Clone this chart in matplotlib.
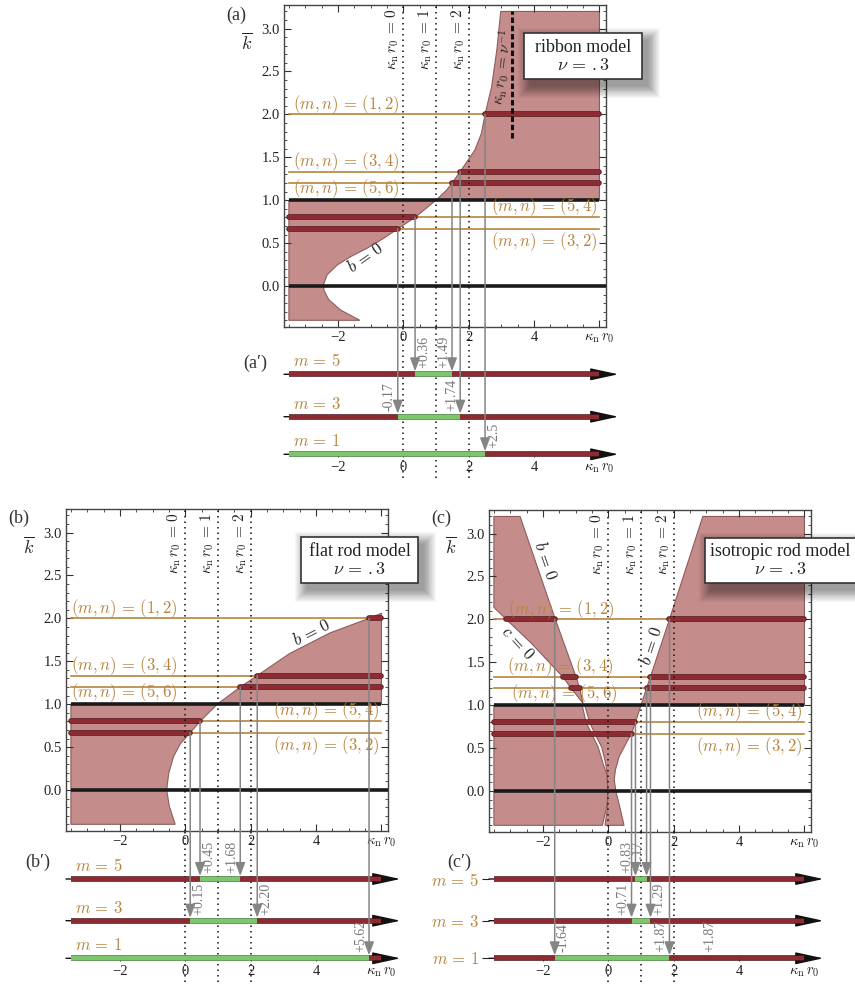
import numpy as np
import matplotlib
matplotlib.use("Agg")
import matplotlib.pyplot as plt
from matplotlib.patches import Polygon, Rectangle, ConnectionPatch
from matplotlib.transforms import offset_copy
import matplotlib.patheffects as pe

plt.rcParams['mathtext.fontset'] = 'cm'
plt.rcParams['font.family'] = ['Liberation Serif', 'DejaVu Serif']

# ---------------- data ----------------
XMIN, XMAX, KMIN, KMAX = -3.5, 6.0, -0.4, 3.2
NU_INV = 1 / 0.3
k_levels = [2.0, 4 / 3, 6 / 5, 4 / 5, 2 / 3]
mn_texts = ['(1,2)', '(3,4)', '(5,6)', '(5,4)', '(3,2)']
m_values = [5, 3, 1]
x_ticks = [-2, 0, 2, 4]
y_ticks = [0.0, 0.5, 1.0, 1.5, 2.0, 2.5, 3.0]
kr_marks = [0, 1, 2]

# ribbon model: b = 0 curve
rib_k = [-0.40, -0.28, -0.16, -0.05, 0.03, 0.13, 0.245, 0.34, 0.44, 0.556, 0.667, 0.80, 1.0,
         1.12, 1.2, 1.333, 1.585, 1.78, 2.0, 2.32, 2.75, 3.2]
rib_x = [-1.33, -1.92, -2.28, -2.43, -2.43, -2.33, -2.02, -1.62, -1.11, -0.60, -0.17, 0.36, 1.0,
         1.33, 1.49, 1.74, 2.19, 2.39, 2.50, 2.70, 2.86, 2.98]
rib_bars = {2.0: [(2.50, XMAX)], 4 / 3: [(1.74, XMAX)], 6 / 5: [(1.49, XMAX)],
            4 / 5: [(XMIN, 0.36)], 2 / 3: [(XMIN, -0.17)]}
rib_green = {5: (0.36, 1.49), 3: (-0.17, 1.74), 1: (XMIN, 2.50)}
rib_arrows = [(-0.17, 2 / 3, 3, '-0.17', 'l'), (0.36, 0.8, 5, '+0.36', 'r'),
              (1.49, 1.2, 5, '+1.49', 'l'), (1.74, 4 / 3, 3, '+1.74', 'l'),
              (2.50, 2.0, 1, '+2.5', 'r')]

# flat rod model: b = 0 curve
flat_k = [-0.40, -0.19, 0.0, 0.19, 0.39, 0.54, 0.667, 0.80, 1.0, 1.2, 1.333, 1.59, 1.83, 2.0, 2.06]
flat_x = [-0.31, -0.49, -0.57, -0.51, -0.36, -0.15, 0.15, 0.45, 0.98, 1.68, 2.20, 3.19, 4.42, 5.62, 6.0]
flat_bars = {2.0: [(5.62, XMAX)], 4 / 3: [(2.20, XMAX)], 6 / 5: [(1.68, XMAX)],
             4 / 5: [(XMIN, 0.45)], 2 / 3: [(XMIN, 0.15)]}
flat_green = {5: (0.45, 1.68), 3: (0.15, 2.20), 1: (XMIN, 5.62)}
flat_arrows = [(0.15, 2 / 3, 3, '+0.15', 'r'), (0.45, 0.8, 5, '+0.45', 'r'),
               (1.68, 1.2, 5, '+1.68', 'l'), (2.20, 4 / 3, 3, '+2.20', 'r'),
               (5.62, 2.0, 1, '+5.62', 'l')]

# isotropic rod model boundaries
iso_bL_k = [3.2, 2.0, 1.333, 1.2, 1.02]
iso_bL_x = [-2.70, -1.62, -0.99, -0.88, -0.77]
iso_c0_k = [2.14, 2.0, 1.72, 1.333, 1.2, 1.02]
iso_c0_x = [-3.5, -3.12, -2.35, -1.40, -1.14, -0.77]
iso_lensL_k = [-0.40, -0.20, -0.10, 0.05, 0.18, 0.32, 0.51, 0.667, 0.80, 1.0]
iso_lensL_x = [-0.18, -0.06, -0.02, -0.02, -0.04, -0.16, -0.31, -0.51, -0.68, -0.80]
iso_lensR_k = [-0.40, -0.20, -0.10, 0.05, 0.18, 0.32, 0.51, 0.667, 0.80, 1.0]
iso_lensR_x = [-0.10, -0.03, -0.02, -0.02, -0.03, -0.08, -0.20, -0.41, -0.57, -0.72]
iso_bR_k = [-0.40, -0.20, 0.0, 0.13, 0.25, 0.40, 0.61, 0.667, 0.80, 1.0, 1.2, 1.333, 2.0, 3.2]
iso_bR_x = [0.48, 0.36, 0.23, 0.18, 0.22, 0.33, 0.62, 0.71, 0.83, 1.0, 1.17, 1.29, 1.87, 2.89]
iso_bars = {2.0: [(-3.12, -1.64), (1.87, XMAX)], 4 / 3: [(-1.40, -0.99), (1.29, XMAX)],
            6 / 5: [(-1.14, -0.88), (1.17, XMAX)], 4 / 5: [(XMIN, 0.83)], 2 / 3: [(XMIN, 0.71)]}
iso_green = {5: (0.83, 1.17), 3: (0.71, 1.29), 1: (-1.64, 1.87)}
iso_arrows = [(-1.64, 2.0, 1, '-1.64', 'r'), (0.71, 2 / 3, 3, '+0.71', 'l'),
              (0.83, 0.8, 5, '+0.83', 'l'), (1.17, 1.2, 5, '+1.17', 'l'),
              (1.29, 4 / 3, 3, '+1.29', 'r'), (1.87, 2.0, 1, '+1.87', 'l')]
iso_extra_label = (2.84, 1, '+1.87')

# ---------------- style ----------------
W, H = 855, 986
FILL = '#C58C8C'
FILL_EDGE = '#8E5C5C'
RED = '#8E2B32'
RED_EDGE = '#4E1519'
GREEN = '#7DC66C'
GREEN_EDGE = '#3F7D37'
BROWN = '#B7843E'
GRAY = '#858585'
XLIM = (-3.65, 6.2)
YLIM = (-0.478, 3.275)

fig = plt.figure(figsize=(W / 100, H / 100), dpi=100)


def add_ax(l, t, r, b):
    return fig.add_axes([l / W, 1 - b / H, (r - l) / W, (b - t) / H])


def ftext(x, y, s, **kw):
    return fig.text(x / W, 1 - y / H, s, **kw)


def style_main(ax):
    ax.set_xlim(*XLIM)
    ax.set_ylim(*YLIM)
    ax.set_xticks(x_ticks + [6])
    ax.set_xticklabels([('\u2212' + str(-t)) if t < 0 else str(t) for t in x_ticks] +
                       [r'$\kappa_\mathrm{n}\,r_0$'])
    ax.set_xticks(np.arange(-3.5, 6.01, 0.5), minor=True)
    ax.set_yticks(y_ticks)
    ax.set_yticklabels([f'{v:.1f}' for v in y_ticks])
    ax.set_yticks(np.arange(-0.4, 3.21, 0.1), minor=True)
    ax.tick_params(which='both', direction='in', top=True, right=True,
                   labelsize=10.5, labelcolor='#222', color='#333', pad=3)
    ax.tick_params(which='major', length=5, width=0.8)
    ax.tick_params(which='minor', length=2.5, width=0.6)
    for s in ax.spines.values():
        s.set_color('#444')
        s.set_linewidth(1.0)


def draw_main(ax, polys, bars, label_x_left):
    for P in polys:
        ax.add_patch(Polygon(P, closed=True, facecolor=FILL, edgecolor=FILL_EDGE,
                             lw=0.8, zorder=1))
    for k in k_levels:
        ax.plot([XMIN, XMAX], [k, k], color=BROWN, lw=1.2, zorder=2)
    ax.plot([XMIN, XLIM[1]], [0, 0], color='#1a1a1a', lw=2.6, zorder=3, solid_capstyle='butt')
    ax.plot([XMIN, XMAX], [1, 1], color='#1a1a1a', lw=2.6, zorder=3, solid_capstyle='butt')
    for k, segs in bars.items():
        for a, b in segs:
            ax.plot([a, b], [k, k], color=RED, lw=3.0, zorder=4, solid_capstyle='round',
                    path_effects=[pe.Stroke(linewidth=4.0, foreground=RED_EDGE), pe.Normal()])
    for v in kr_marks:
        ax.axvline(v, color='#111', lw=1.1, ls=(0, (1, 2.6)), zorder=5)
        ax.text(v - 0.06, 3.235, r'$\kappa_\mathrm{n}\,r_0\,=\,%d$' % v, rotation=90,
                ha='right', va='top', fontsize=11, color='#222', zorder=6)
    for k, t, xl in zip(k_levels[:3], mn_texts[:3], label_x_left):
        s = r'$(m,n)\,=\,%s$' % t
        if k == 6 / 5:
            ax.text(xl, k + 0.07, s, ha='left', va='top', fontsize=12, color=BROWN, zorder=6)
        else:
            ax.text(xl, k - 0.015, s, ha='left', va='bottom', fontsize=12, color=BROWN, zorder=6)
    ax.text(5.92, 0.8 - 0.01, r'$(m,n)\,=\,%s$' % mn_texts[3], ha='right', va='bottom',
            fontsize=12, color=BROWN, zorder=6)
    ax.text(5.92, 2 / 3 - 0.02, r'$(m,n)\,=\,%s$' % mn_texts[4], ha='right', va='top',
            fontsize=12, color=BROWN, zorder=6)
    style_main(ax)


def poly_from(xs, ks):
    return list(zip(xs, ks))


def add_prime(l, t, r, b):
    ax = add_ax(l, t, r, b)
    ax.set_xlim(*XLIM)
    ax.set_ylim(b, t)
    ax.patch.set_alpha(0)
    for s in ['top', 'right', 'left', 'bottom']:
        ax.spines[s].set_visible(False)
    return ax


def draw_prime(ax, ys, green, left_labels=False):
    for m, y in zip(m_values, ys):
        ax.annotate('', xy=(6.58, y), xytext=(XLIM[0], y),
                    arrowprops=dict(arrowstyle='-|>,head_length=1.25,head_width=0.27',
                                    color='#111', lw=1.0, mutation_scale=14,
                                    shrinkA=0, shrinkB=0),
                    annotation_clip=False, zorder=2)
        g0, g1 = green[m]
        segs = []
        if g0 > XMIN:
            segs.append((XMIN, g0, RED, RED_EDGE))
        segs.append((g0, g1, GREEN, GREEN_EDGE))
        if g1 < XMAX:
            segs.append((g1, XMAX, RED, RED_EDGE))
        for a, b, c, e in segs:
            ax.plot([a, b], [y, y], color=c, lw=3.0, solid_capstyle='butt', zorder=3,
                    path_effects=[pe.Stroke(linewidth=4.0, foreground=e), pe.Normal()])
        if not left_labels:
            ax.text(-3.38, y - 4, r'$m\,=\,%d$' % m, ha='left', va='bottom',
                    fontsize=12, color=BROWN)
    for v in kr_marks:
        ax.axvline(v, color='#111', lw=1.1, ls=(0, (1, 2.6)), zorder=1)
    ax.spines['bottom'].set_position(('data', ys[-1]))
    ax.set_xticks(x_ticks + [6])
    ax.set_xticklabels([('\u2212' + str(-t)) if t < 0 else str(t) for t in x_ticks] +
                       [r'$\kappa_\mathrm{n}\,r_0$'])
    ax.tick_params(axis='x', direction='inout', length=4, width=0.7, color='#444',
                   labelsize=10.5, labelcolor='#222', pad=3)
    if left_labels:
        ax.set_yticks(ys)
        ax.set_yticklabels([r'$m\,=\,%d$' % m for m in m_values], fontsize=12, color=BROWN)
        ax.tick_params(axis='y', direction='out', length=5, width=0.8, color='#222', pad=2)
    else:
        ax.set_yticks([])


def label(axP, x, yl, lab, side):
    dx = 2 if side == 'r' else -2
    tr = offset_copy(axP.transData, fig=fig, x=dx, y=0, units='dots')
    axP.text(x, yl - 6, lab, rotation=90, ha='left' if side == 'r' else 'right',
             va='bottom', transform=tr, color='#787878', fontsize=10, clip_on=False,
             zorder=7)


def connect(axM, axP, ys, arrows):
    ymap = dict(zip(m_values, ys))
    for x, k, m, lab, side in arrows:
        yl = ymap[m]
        con = ConnectionPatch(xyA=(x, k), coordsA=axM.transData, xyB=(x, yl - 3),
                              coordsB=axP.transData,
                              arrowstyle='-|>,head_length=0.8,head_width=0.3',
                              mutation_scale=10, color=GRAY, lw=1.1,
                              shrinkA=0, shrinkB=0, zorder=6)
        fig.add_artist(con)
        label(axP, x, yl, lab, side)


def legend_box(l, t, r, b, line1, cx, y1, y2):
    for i in range(14):
        e = i * 0.9
        rect = Rectangle(((l + 6 - e) / W, 1 - (b + 7 + e) / H),
                         (r - l + 2 * e) / W, (b - t + 2 * e) / H,
                         transform=fig.transFigure, facecolor='#000000', alpha=0.03,
                         edgecolor='none', zorder=7)
        fig.add_artist(rect)
    box = Rectangle((l / W, 1 - b / H), (r - l) / W, (b - t) / H, transform=fig.transFigure,
                    facecolor='white', edgecolor='#333', lw=1.2, zorder=8)
    fig.add_artist(box)
    ftext(cx, y1, line1, ha='center', va='center', fontsize=13, color='#222', zorder=9)
    ftext(cx, y2, r'$\nu\,=\,.3$', ha='center', va='center', fontsize=13, color='#222', zorder=9)


# ---------------- panel (a) ----------------
axA = add_ax(284, 5, 606, 327)
rk = np.array(rib_k)
rx = np.array(rib_x)
polyA1 = [(XMIN, KMIN)] + poly_from(rx[rk <= 1.0], rk[rk <= 1.0]) + [(XMIN, 1.0)]
polyA2 = poly_from(rx[rk >= 1.0], rk[rk >= 1.0]) + [(XMAX, KMAX), (XMAX, 1.0)]
draw_main(axA, [polyA1, polyA2], rib_bars, [-3.36, -3.36, -3.36])
axA.plot([NU_INV, NU_INV], [1.73, 3.2], color='#111', lw=2.2, ls=(0, (1.8, 0.9)), zorder=5)
axA.text(3.02, 2.55, r'$\kappa_\mathrm{n}\,r_0\,=\,\nu^{-1}$', rotation=83, ha='center',
         va='center', fontsize=11, color='#222', zorder=6)
axA.text(-1.15, 0.33, r'$b\,=\,0$', rotation=35, ha='center', va='center', fontsize=12,
         color='#222', zorder=6)

pA = add_prime(284, 327, 606, 478)
ysA = [374.3, 416.7, 454.3]
draw_prime(pA, ysA, rib_green)
connect(axA, pA, ysA, rib_arrows)

# ---------------- panel (b) ----------------
axB = add_ax(66, 509, 388, 831)
fk = np.array(flat_k)
fx = np.array(flat_x)
polyB1 = [(XMIN, KMIN)] + poly_from(fx[fk <= 1.0], fk[fk <= 1.0]) + [(XMIN, 1.0)]
polyB2 = poly_from(fx[fk >= 1.0], fk[fk >= 1.0]) + [(XMAX, 1.0)]
draw_main(axB, [polyB1, polyB2], flat_bars, [-3.5, -3.5, -3.5])
axB.text(3.88, 1.83, r'$b\,=\,0$', rotation=27, ha='center', va='center', fontsize=12,
         color='#222', zorder=6)

pB = add_prime(66, 831, 388, 982)
ysB = [879.0, 920.7, 958.3]
draw_prime(pB, ysB, flat_green)
connect(axB, pB, ysB, flat_arrows)

# ---------------- panel (c) ----------------
axC = add_ax(489, 510, 811, 832)
wedge = [(XMIN, KMAX)] + poly_from(iso_bL_x, iso_bL_k) + poly_from(iso_c0_x[::-1], iso_c0_k[::-1])
polyC_left = [(XMIN, KMIN)] + poly_from(iso_lensL_x, iso_lensL_k) + [(XMIN, 1.0)]
bRk = np.array(iso_bR_k)
bRx = np.array(iso_bR_x)
polyC_mid = poly_from(iso_lensR_x, iso_lensR_k) + poly_from(bRx[bRk <= 1.0][::-1], bRk[bRk <= 1.0][::-1])
polyC_right = poly_from(bRx[bRk >= 1.0], bRk[bRk >= 1.0]) + [(XMAX, KMAX), (XMAX, 1.0)]
draw_main(axC, [wedge, polyC_left, polyC_mid, polyC_right], iso_bars, [-3.06, -3.11, -2.97])
axC.text(-1.93, 2.68, r'$b\,=\,0$', rotation=-71, ha='center', va='center', fontsize=12,
         color='#222', zorder=6)
axC.text(-2.78, 1.72, r'$c\,=\,0$', rotation=-47, ha='center', va='center', fontsize=12,
         color='#222', zorder=6)
axC.text(1.33, 1.69, r'$b\,=\,0$', rotation=72, ha='center', va='center', fontsize=12,
         color='#222', zorder=6)

pC = add_prime(489, 832, 811, 982)
ysC = [879.0, 920.7, 958.3]
draw_prime(pC, ysC, iso_green, left_labels=True)
connect(axC, pC, ysC, iso_arrows)
label(pC, iso_extra_label[0], ysC[2], iso_extra_label[2], 'r')

# ---------------- legend boxes, panel labels ----------------
legend_box(524, 33, 642, 79, 'ribbon model', 583, 48, 65)
legend_box(301, 537, 418, 583, 'flat rod model', 359.5, 552, 569)
legend_box(705, 538, 880, 583, 'isotropic rod model', 780, 552, 569)

for x, y, s in [(226, 15, '(a)'), (8, 518, '(b)'), (431, 518, '(c)'),
                (243, 363, '(a\u2032)'), (25, 862, '(b\u2032)'), (447, 862, '(c\u2032)')]:
    ftext(x, y, s, ha='left', va='center', fontsize=13, color='#333')
for x, y in [(247, 43), (29, 547), (451, 547)]:
    ftext(x, y, r'$\overline{k}$', ha='center', va='center', fontsize=13, color='#222')

fig.savefig('out.png', dpi=100)
